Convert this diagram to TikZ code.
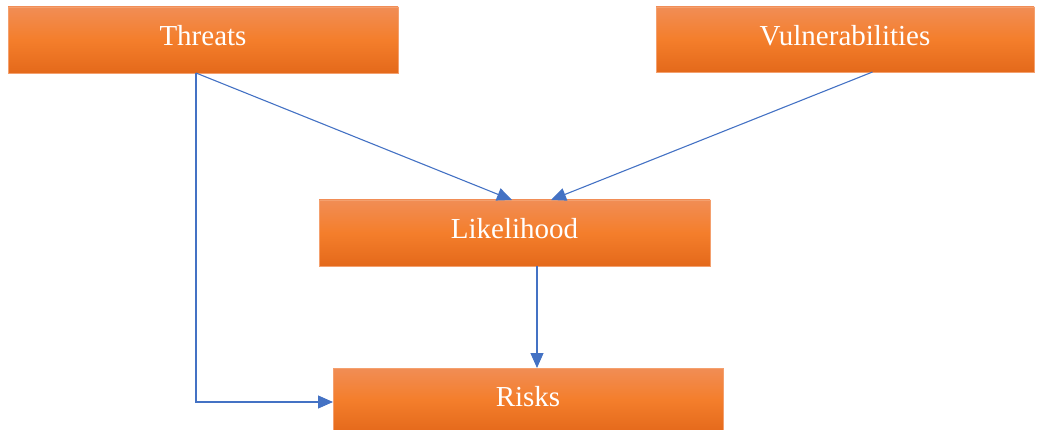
\documentclass[tikz,border=0pt]{standalone}
\usepackage{fontspec}
\setmainfont{Liberation Serif}
\usetikzlibrary{arrows.meta,positioning,calc}
\definecolor{boxtop}{HTML}{F18D55}
\definecolor{boxmid}{HTML}{F47E2B}
\definecolor{boxbot}{HTML}{E4691B}
\definecolor{boxedge}{HTML}{F4A06E}
\definecolor{link}{HTML}{4472C4}
\tikzset{
  riskbox/.style={rectangle, anchor=north west, inner sep=0pt, outer sep=0pt,
    top color=boxtop, bottom color=boxbot, middle color=boxmid,
    draw=boxedge, line width=0.6pt, text=white, text height=20pt, text depth=8pt,
    font=\fontsize{29}{32}\selectfont},
  flow/.style={link, line width=1.1pt, -{Triangle[length=15pt,width=13pt]}}
}

\begin{document}
\begin{tikzpicture}[x=1pt,y=-1pt]
  \useasboundingbox (0,0) rectangle (1038,430);

  % boxes
  \node[riskbox, minimum width=390pt, minimum height=66pt] (threats) at (8,7) {Threats};
  \node[riskbox, minimum width=378pt, minimum height=65pt] (vuln) at (656,7) {Vulnerabilities};
  \node[riskbox, minimum width=391pt, minimum height=66pt] (likelihood) at (319,200) {Likelihood};
  \node[riskbox, minimum width=390pt, minimum height=64pt] (risks) at (333,368) {Risks};

  % connectors
  \draw[flow] ([xshift=-7pt]threats.south) -- ([xshift=-2.5pt]likelihood.north);
  \draw[flow] ([xshift=27.5pt]vuln.south) -- ([xshift=36.5pt]likelihood.north);
  \draw[flow] ([xshift=22.5pt]likelihood.south) -- ([xshift=22.5pt]likelihood.south |- risks.north);
  \draw[flow] ([xshift=-7pt]threats.south) |- ([yshift=-2pt]risks.west);
\end{tikzpicture}
\end{document}
